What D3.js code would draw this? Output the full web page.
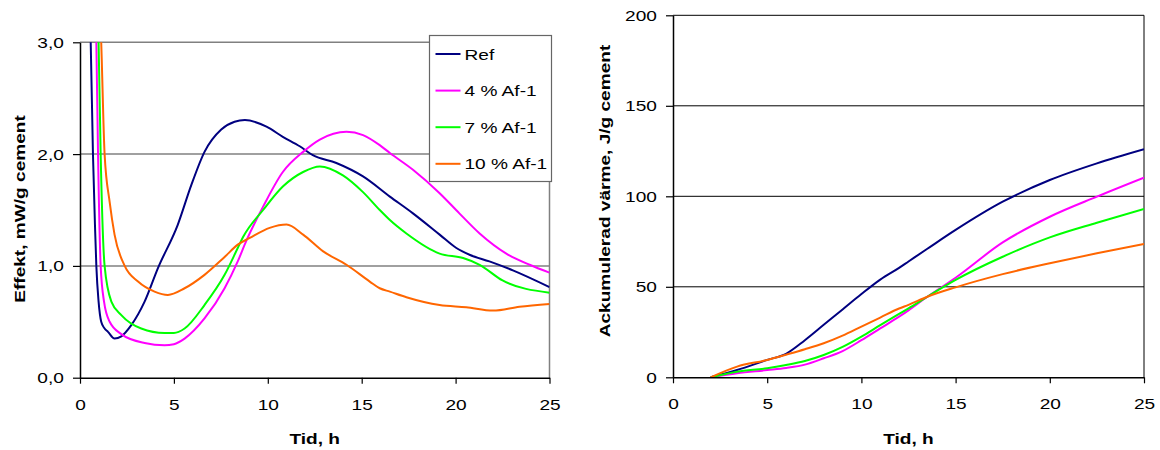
<!DOCTYPE html>
<html>
<head>
<meta charset="utf-8">
<script src="https://cdn.jsdelivr.net/npm/d3@7"></script>
<style>
  body { margin: 0; background: #fff; }
  svg text { font-family: "Liberation Sans", Arial, sans-serif; fill: #000; }
</style>
</head>
<body>
<div id="chart"></div>
<script>
// serie names + tick values
var serieNamn = ['Ref', '4 % Af-1', '7 % Af-1', '10 % Af-1'];
var tidTicks = [0, 5, 10, 15, 20, 25];
var effektTicks = [0, 1, 2, 3];
var varmeTicks = [0, 50, 100, 150, 200];

// left chart: effekt, mW/g cement  ([tid h, value])
var effektRef = [[0.45, 3.6], [0.57, 3.0], [0.69, 2.0], [0.8, 1.35], [0.87, 1.0], [0.99, 0.68], [1.13, 0.50],
  [1.31, 0.44], [1.49, 0.41], [1.84, 0.35], [2.2, 0.37], [2.73, 0.47], [3.44, 0.68], [4.15, 0.98], [5.21, 1.37],
  [5.92, 1.72], [6.63, 2.02], [7.52, 2.22], [8.23, 2.29], [8.78, 2.305], [9.93, 2.245], [10.8, 2.155],
  [11.7, 2.07], [12.4, 1.99], [13.65, 1.92], [15.07, 1.80], [16.5, 1.62], [17.73, 1.47], [19.15, 1.28],
  [20.04, 1.16], [20.74, 1.10], [21.8, 1.04], [23.05, 0.96], [25, 0.81]];
var effektAf4 = [[0.75, 3.6], [0.87, 3.0], [0.96, 2.0], [1.1, 1.0], [1.28, 0.68], [1.58, 0.50], [2.2, 0.39],
  [3.44, 0.31], [4.5, 0.29], [5.0, 0.30], [5.57, 0.35], [6.63, 0.53], [7.7, 0.80], [8.4, 1.04], [8.87, 1.23],
  [9.75, 1.53], [10.8, 1.84], [11.88, 2.02], [12.77, 2.13], [14.19, 2.20], [15.07, 2.17], [15.96, 2.08],
  [16.5, 2.01], [17.73, 1.86], [19.15, 1.65], [20.2, 1.47], [21.28, 1.29], [22.7, 1.11], [23.94, 1.01], [25, 0.94]];
var effektAf7 = [[0.85, 3.6], [0.99, 3.0], [1.1, 2.0], [1.31, 1.0], [1.67, 0.68], [2.2, 0.56], [3.26, 0.44],
  [4.5, 0.40], [5.0, 0.40], [5.57, 0.44], [6.63, 0.65], [7.7, 0.92], [8.4, 1.16], [8.69, 1.26], [9.75, 1.50],
  [10.8, 1.71], [11.88, 1.84], [12.77, 1.89], [14.0, 1.81], [15.07, 1.66], [15.96, 1.50], [16.5, 1.41],
  [17.38, 1.29], [19.15, 1.11], [20.4, 1.07], [21.28, 1.01], [22.5, 0.87], [25, 0.76]];
var effektAf10 = [[1.0, 3.6], [1.13, 3.0], [1.31, 2.0], [1.58, 1.57], [1.84, 1.28], [2.38, 1.0], [3.09, 0.86],
  [3.97, 0.77], [4.68, 0.74], [5.57, 0.80], [6.63, 0.92], [7.7, 1.08], [8.4, 1.19], [9.04, 1.25], [10.1, 1.34],
  [11.0, 1.37], [11.88, 1.28], [12.95, 1.13], [14.19, 1.01], [15.43, 0.86], [15.96, 0.80], [16.5, 0.77],
  [17.38, 0.72], [19.15, 0.65], [20.57, 0.63], [21.99, 0.60], [23.4, 0.635], [25, 0.66]];

// right chart: ackumulerad värme, J/g cement
var varmeTid = [2, 3.4, 5, 6, 7, 8, 9, 10, 11, 12, 12.5, 13.5, 15, 17.5, 20, 22.5, 25];
var varmeRef = [0, 4, 9.6, 13, 20.5, 29, 37.5, 46, 54, 60.5, 64, 71, 81.4, 97, 109, 118.2, 126];
var varmeAf4 = [0, 2.2, 4, 5.2, 7, 10.5, 14.5, 20.5, 27, 33.5, 37, 44.5, 55, 74.5, 88.7, 99.8, 110.3];
var varmeAf7 = [0, 3.1, 5, 6.8, 9, 12.3, 16.8, 22.5, 28.8, 35, 38.1, 44.5, 53.8, 66.6, 77.3, 85.4, 93];
var varmeAf10 = [0, 5.9, 9.6, 12.5, 15.5, 18.8, 23, 28, 33, 38, 40, 44.5, 49.7, 57, 63, 68.5, 73.6];

var colors = ['#000080', '#ff00ff', '#00ff00', '#ff6600'];
var fontSize = 15.4;
var stretch = 'scale(1.24,1)';   // excel text is drawn wider than normal

var svg = d3.select('#chart').append('svg')
  .attr('width', 1160)
  .attr('height', 450);

function drawPanel(opt) {
  var x = d3.scaleLinear().domain([0, 25]).range([opt.left, opt.right]);
  var y = d3.scaleLinear().domain(opt.yDomain).range([opt.bottom, opt.top]);
  var g = svg.append('g');

  // gridlines
  g.selectAll('.grid')
    .data(opt.yTicks.filter(function (d) { return d > 0; }))
    .enter().append('line')
    .attr('x1', opt.left).attr('x2', opt.right)
    .attr('y1', function (d) { return y(d); })
    .attr('y2', function (d) { return y(d); })
    .attr('stroke', opt.gridColor)
    .attr('stroke-width', opt.gridWidth);
  // right border
  g.append('line')
    .attr('x1', opt.right).attr('x2', opt.right)
    .attr('y1', opt.top).attr('y2', opt.bottom)
    .attr('stroke', opt.gridColor)
    .attr('stroke-width', opt.gridWidth);

  // lines
  var clipId = 'clip' + opt.left;
  svg.append('clipPath').attr('id', clipId)
    .append('rect')
    .attr('x', opt.left).attr('y', opt.top)
    .attr('width', opt.right - opt.left).attr('height', opt.bottom - opt.top);

  var line = d3.line()
    .x(function (d) { return x(d[0]); })
    .y(function (d) { return y(d[1]); })
    .curve(d3.curveMonotoneX);

  g.append('g').attr('clip-path', 'url(#' + clipId + ')')
    .selectAll('path')
    .data(opt.series)
    .enter().append('path')
    .attr('d', line)
    .attr('fill', 'none')
    .attr('stroke', function (d, i) { return colors[i]; })
    .attr('stroke-width', 2)
    .attr('stroke-linejoin', 'round');

  // axes
  var xAxis = d3.axisBottom(x).tickValues(tidTicks).tickSize(6).tickSizeOuter(0).tickPadding(15);
  var yAxis = d3.axisLeft(y).tickValues(opt.yTicks).tickSize(7).tickSizeOuter(0).tickFormat(opt.yFormat);

  var gx = g.append('g')
    .attr('transform', 'translate(0,' + opt.bottom + ')')
    .call(xAxis);
  var gy = g.append('g')
    .attr('transform', 'translate(' + opt.left + ',0)')
    .call(yAxis);

  [gx, gy].forEach(function (a) {
    a.select('.domain').attr('stroke', '#000').attr('stroke-width', 1.5);
    a.selectAll('.tick line').attr('stroke', '#000').attr('stroke-width', 1.2);
    a.selectAll('.tick text')
      .attr('font-size', fontSize)
      .attr('font-family', '"Liberation Sans", Arial, sans-serif')
      .attr('fill', '#000')
      .attr('transform', stretch);
  });
  gy.selectAll('.tick text').attr('x', -13);

  // axis titles
  g.append('text')
    .attr('transform', 'translate(' + (opt.left + opt.right) / 2 + ',444) ' + stretch)
    .attr('text-anchor', 'middle')
    .attr('font-size', fontSize)
    .attr('font-weight', 'bold')
    .text('Tid, h');

  g.append('text')
    .attr('transform', 'translate(' + opt.titleX + ',' + opt.titleY + ') rotate(-90) ' + stretch)
    .attr('text-anchor', 'middle')
    .attr('font-size', fontSize)
    .attr('font-weight', 'bold')
    .text(opt.yTitle);

  return g;
}

var fmtKomma = function (d) { return d3.format('.1f')(d).replace('.', ','); };

var left = drawPanel({
  left: 80, right: 549.5, top: 42.3, bottom: 377.7,
  yDomain: [0, 3], yTicks: effektTicks, yFormat: fmtKomma,
  gridColor: '#808080', gridWidth: 1.5,
  series: [effektRef, effektAf4, effektAf7, effektAf10],
  yTitle: 'Effekt, mW/g cement', titleX: 24.5, titleY: 209
});

drawPanel({
  left: 673, right: 1144, top: 15.3, bottom: 377.3,
  yDomain: [0, 200], yTicks: varmeTicks, yFormat: d3.format('d'),
  gridColor: '#000', gridWidth: 1,
  series: [varmeRef, varmeAf4, varmeAf7, varmeAf10].map(function (v) {
    return v.map(function (d, i) { return [varmeTid[i], d]; });
  }),
  yTitle: 'Ackumulerad värme, J/g cement', titleX: 609.5, titleY: 191
});

// legend (left chart)
var legend = left.append('g').attr('transform', 'translate(429.5,35.5)');
legend.append('rect')
  .attr('width', 122).attr('height', 146)
  .attr('fill', '#fff')
  .attr('stroke', '#666')
  .attr('stroke-width', 1.2);

var item = legend.selectAll('.item')
  .data(serieNamn)
  .enter().append('g')
  .attr('transform', function (d, i) { return 'translate(0,' + (18.5 + i * 36.6) + ')'; });
item.append('line')
  .attr('x1', 6).attr('x2', 31)
  .attr('stroke', function (d, i) { return colors[i]; })
  .attr('stroke-width', 2);
item.append('text')
  .attr('transform', 'translate(35,5.5) ' + stretch)
  .attr('font-size', fontSize)
  .text(function (d) { return d; });
</script>
</body>
</html>
